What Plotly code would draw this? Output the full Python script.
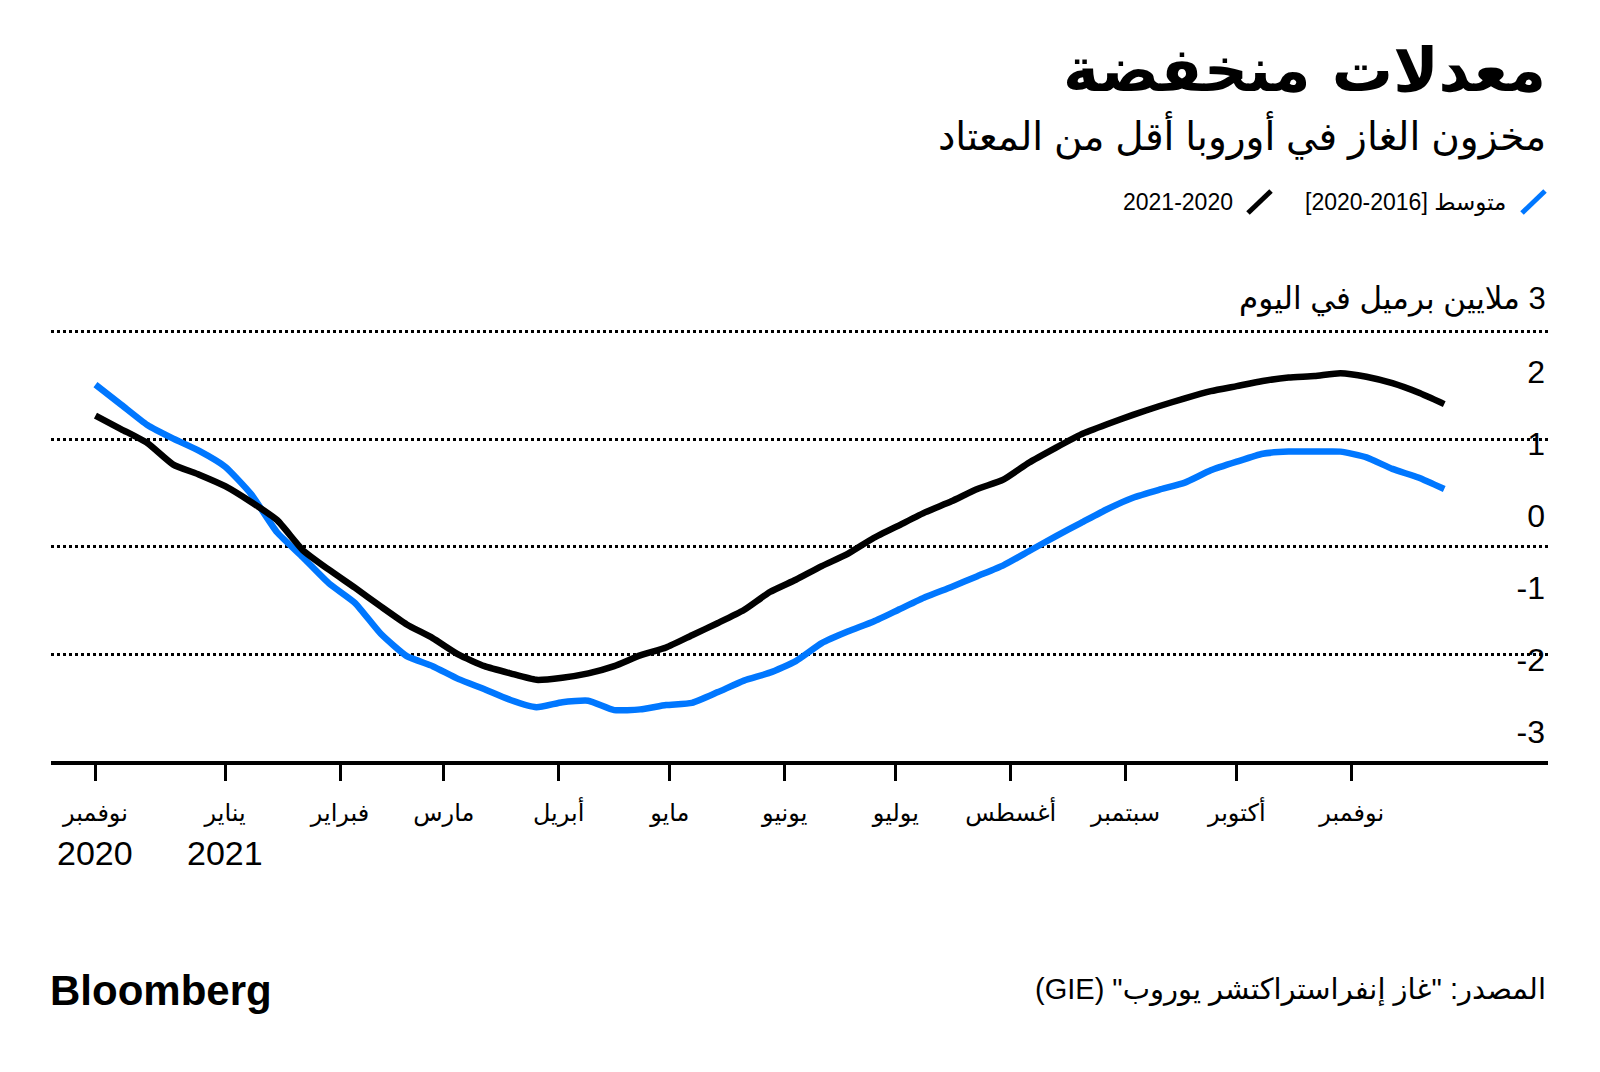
import plotly.graph_objects as go
import pandas as pd

# -----------------------------------------------------------------------
#                             DATA
# -----------------------------------------------------------------------

start_date = "2020-11-27"
n_weeks = 53

# 2020-2021 season (black)
season_2020_2021 = [1.39, 1.20, 1.01, 0.71, 0.57, 0.41, 0.19, -0.06, -0.48, -0.75,
                    -1.00, -1.26, -1.51, -1.70, -1.93, -2.09, -2.19, -2.28, -2.25, -2.19,
                    -2.09, -1.94, -1.83, -1.66, -1.49, -1.31, -1.06, -0.89, -0.70, -0.53,
                    -0.31, -0.13, 0.05, 0.20, 0.37, 0.50, 0.74, 0.94, 1.13, 1.27,
                    1.40, 1.52, 1.63, 1.73, 1.80, 1.87, 1.92, 1.94, 1.98, 1.93,
                    1.84, 1.71, 1.55]

# 2016-2020 average (blue)
average_2016_2020 = [1.82, 1.54, 1.26, 1.07, 0.90, 0.68, 0.30, -0.23, -0.58, -0.94,
                     -1.21, -1.64, -1.95, -2.09, -2.27, -2.41, -2.56, -2.66, -2.59, -2.57,
                     -2.70, -2.69, -2.63, -2.60, -2.45, -2.29, -2.18, -2.02, -1.77, -1.61,
                     -1.47, -1.30, -1.13, -0.99, -0.84, -0.69, -0.49, -0.29, -0.10, 0.09,
                     0.25, 0.36, 0.46, 0.63, 0.75, 0.86, 0.89, 0.89, 0.89, 0.81,
                     0.65, 0.53, 0.37]

tick_dates = ["2020-11-27", "2021-01-01", "2021-02-01", "2021-03-01", "2021-04-01", "2021-05-01",
              "2021-06-01", "2021-07-01", "2021-08-01", "2021-09-01", "2021-10-01", "2021-11-01"]
tick_months = ["نوفمبر", "يناير", "فبراير", "مارس", "أبريل", "مايو",
               "يونيو", "يوليو", "أغسطس", "سبتمبر", "أكتوبر", "نوفمبر"]
year_dates = ["2020-11-27", "2021-01-01"]
year_labels = ["2020", "2021"]

y_ticks = [2, 1, 0, -1, -2, -3]

BLUE = "#0077ff"
BLACK = "#000000"
RLE, PDF = "\u202b", "\u202c"
FONT = "Liberation Sans, DejaVu Sans, sans-serif"

dates = pd.date_range(start_date, periods=n_weeks, freq="7D")

# -----------------------------------------------------------------------
#                             LAYOUT HELPERS
# -----------------------------------------------------------------------

W, H = 1600, 1072
PAGE = 8                      # body margin of the html page
L, R, T, B = 51, 1548, 329, 761
ZERO_PX, UNIT_PX = 515.7, 72  # where 0 sits, pixels per unit
GRID_PX = [331.5, 439, 546.5, 654]


def px(x):
    return (x - L) / (R - L)


def py(y):
    return (B - y) / (B - T)


def val(y):
    return (ZERO_PX - y) / UNIT_PX


def rtl(text):
    return RLE + text + PDF


# -----------------------------------------------------------------------
#                             GRAPH
# -----------------------------------------------------------------------

fig = go.Figure()

fig.add_trace(go.Scatter(x=dates, y=average_2016_2020, mode="lines",
                         line=dict(color=BLUE, width=6.5, shape="spline", smoothing=0.5),
                         name="avg"))
fig.add_trace(go.Scatter(x=dates, y=season_2020_2021, mode="lines",
                         line=dict(color=BLACK, width=6.5, shape="spline", smoothing=0.5),
                         name="2020-2021"))

annotations = [
    dict(text="<b>" + rtl("معدلات منخفضة") + "</b>", x=1.0, y=py(69),
         font=dict(size=61, family="DejaVu Sans", color=BLACK)),
    dict(text=rtl("مخزون الغاز في أوروبا أقل من المعتاد"), x=1.0, y=py(136),
         font=dict(size=39, family=FONT, color=BLACK)),
    dict(text=rtl("متوسط [2016-2020]"), x=px(1508), y=py(202),
         font=dict(size=23, family=FONT, color=BLACK)),
    dict(text="2021-2020", x=px(1235), y=py(202),
         font=dict(size=23, family=FONT, color=BLACK)),
    dict(text=rtl("3 ملايين برميل في اليوم"), x=1.0, y=py(299),
         font=dict(size=31, family=FONT, color=BLACK)),
    dict(text=rtl('المصدر: "غاز إنفراستراكتشر يوروب" (GIE)'), x=1.0, y=py(990),
         font=dict(size=29, family=FONT, color=BLACK)),
]
for a in annotations:
    a.update(xref="paper", yref="paper", xanchor="right", yanchor="middle", showarrow=False)

annotations.append(dict(text="<b>Bloomberg</b>", x=-0.002, y=py(990), xref="paper", yref="paper",
                        xanchor="left", yanchor="middle", showarrow=False,
                        font=dict(size=42, family="Liberation Sans", color=BLACK)))

for d, label in zip(year_dates, year_labels):
    annotations.append(dict(text=label, x=d, y=py(853), xref="x", yref="paper",
                            xanchor="center", yanchor="middle", showarrow=False,
                            font=dict(size=34, family=FONT, color=BLACK)))

shapes = [
    dict(type="line", xref="paper", yref="paper", x0=px(1522), y0=py(213), x1=px(1545), y1=py(191),
         line=dict(color=BLUE, width=5)),
    dict(type="line", xref="paper", yref="paper", x0=px(1248), y0=py(213), x1=px(1271), y1=py(191),
         line=dict(color=BLACK, width=5)),
]

fig.update_layout(
    width=W, height=H,
    margin=dict(l=L - PAGE, r=W - R + PAGE, t=T - PAGE, b=H - B + PAGE),
    paper_bgcolor="white",
    plot_bgcolor="white",
    showlegend=False,
    annotations=annotations,
    shapes=shapes,
    xaxis=dict(
        type="date",
        range=["2020-11-15", "2021-12-24"],
        tickvals=tick_dates,
        ticktext=tick_months,
        ticks="outside", ticklen=16, tickwidth=3, tickcolor=BLACK,
        showline=True, linewidth=4, linecolor=BLACK,
        showgrid=False, zeroline=False, automargin=False,
        ticklabelstandoff=11,
        tickfont=dict(size=24, family=FONT, color=BLACK),
    ),
    yaxis=dict(
        range=[val(B), val(T)],
        tickvals=y_ticks,
        ticktext=[str(v) for v in y_ticks],
        side="right",
        ticklabelposition="inside",
        ticks="", showgrid=False, zeroline=False, showline=False, automargin=False,
        tickfont=dict(size=32, family=FONT, color=BLACK),
        minor=dict(tickvals=[val(g) for g in GRID_PX], ticks="", showgrid=True,
                   gridcolor=BLACK, gridwidth=3, griddash="3px,3px"),
    ),
)

fig.write_html("out.html")
